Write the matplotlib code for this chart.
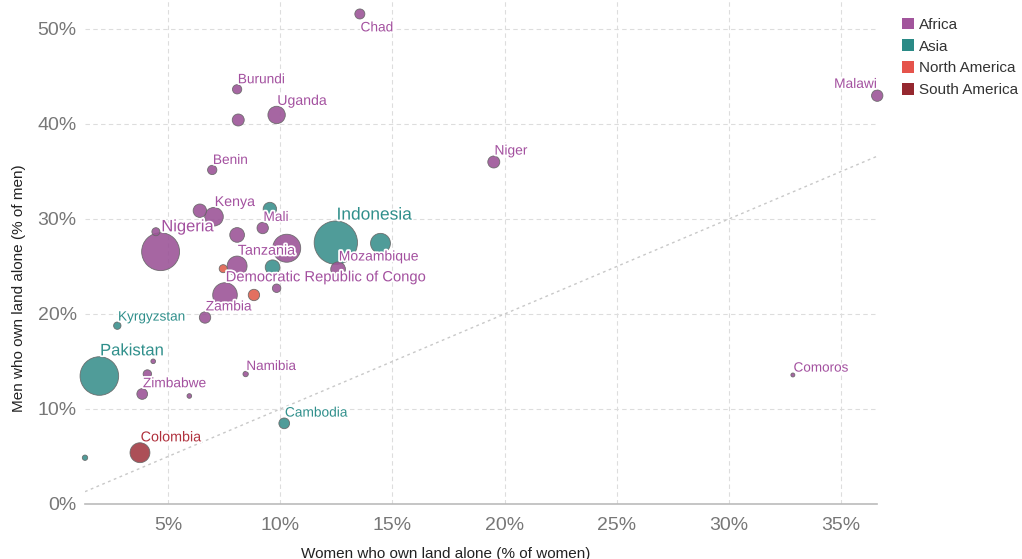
import numpy as np
import matplotlib.pyplot as plt
from matplotlib.patches import Patch
import matplotlib.patheffects as pe

plt.rcParams['font.family'] = ['Liberation Sans', 'DejaVu Sans']

# data (values in %)
names = ["Chad", "Burundi", "", "Uganda", "Benin", "Malawi", "Niger", "Kenya", "", "",
         "Mali", "Nigeria", "", "", "", "Tanzania", "", "", "Indonesia", "",
         "Mozambique", "Democratic Republic of Congo", "", "", "Zambia", "Kyrgyzstan",
         "Pakistan", "", "", "Zimbabwe", "", "Namibia", "Cambodia", "Colombia", "", "Comoros"]
regions = ["Africa", "Africa", "Africa", "Africa", "Africa", "Africa", "Africa", "Africa", "Africa", "Asia",
           "Africa", "Africa", "Africa", "Africa", "Africa", "Africa", "North America", "Asia", "Asia", "Asia",
           "Africa", "Africa", "North America", "Africa", "Africa", "Asia",
           "Asia", "Africa", "Africa", "Africa", "Africa", "Africa", "Asia", "South America", "Asia", "Africa"]
women = [13.55, 8.08, 8.13, 9.84, 6.97, 36.61, 19.52, 7.05, 6.42, 9.54,
         9.22, 4.67, 4.46, 8.08, 10.29, 8.08, 7.46, 9.66, 12.48, 14.47,
         12.58, 7.54, 8.83, 9.84, 6.65, 2.74,
         1.94, 4.34, 4.08, 3.85, 5.95, 8.46, 10.18, 3.75, 1.3, 32.85]
men = [51.58, 43.65, 40.42, 40.95, 35.16, 42.98, 36.0, 30.24, 30.87, 31.05,
       29.05, 26.56, 28.66, 28.32, 26.92, 25.05, 24.77, 24.92, 27.51, 27.44,
       24.71, 22.0, 22.0, 22.71, 19.63, 18.77,
       13.47, 15.02, 13.68, 11.58, 11.37, 13.68, 8.49, 5.4, 4.87, 13.58]
population = [14, 12, 20, 42, 12, 18, 20, 48, 25, 25,
              18, 200, 9, 30, 109, 55, 9, 30, 261, 55,
              30, 84, 18, 10, 18, 7.6,
              207, 3, 10, 16, 3, 4, 16, 55, 4, 2.2]

legend_regions = ["Africa", "Asia", "North America", "South America"]
legend_colors = ["#a2559c", "#2a8a86", "#e5534b", "#95282f"]
bubble_colors = {"Africa": "#9c5598", "Asia": "#3d918e",
                 "North America": "#e0604f", "South America": "#a33c45"}
text_colors = {"Africa": "#a3509f", "Asia": "#2f8f8b",
               "North America": "#d9534a", "South America": "#b0323e"}

fig = plt.figure(figsize=(10.22, 5.59), dpi=100)
ax = fig.add_axes([85 / 1022, 55 / 559, 792 / 1022, 504 / 559])

women = np.array(women)
men = np.array(men)
pop = np.array(population)
sizes = pop * 3.73

# big bubbles first so small ones stay visible
order = np.argsort(-pop)
ax.scatter(women[order], men[order], s=sizes[order],
           c=[bubble_colors[regions[i]] for i in order],
           alpha=0.9, edgecolors="#666666", linewidths=0.6, zorder=3, clip_on=False)

# y = x reference line
ax.plot([1.3, 36.6], [1.3, 36.6], color="#c8c8c8", lw=1, linestyle=(0, (2, 2.5)), zorder=1)

halo = [pe.withStroke(linewidth=2.5, foreground="white")]
for i, name in enumerate(names):
    if not name:
        continue
    r = np.sqrt(sizes[i]) / 2
    fs = min(9.7 + 0.011 * pop[i], 12.5)
    if name == "Chad":
        xy, ha, va = (0.5, -(r + 1)), "left", "top"
    elif name == "Malawi":
        xy, ha, va = (0, r + 1.5), "right", "baseline"
    else:
        xy, ha, va = (0.5, r + 1), "left", "baseline"
    ax.annotate(name, (women[i], men[i]), xytext=xy, textcoords="offset points",
                ha=ha, va=va, fontsize=fs, color=text_colors[regions[i]],
                path_effects=halo, zorder=4)

ax.set_xlim(1.3, 36.6)
ax.set_ylim(0, 53.05)
xt = [5, 10, 15, 20, 25, 30, 35]
yt = [0, 10, 20, 30, 40, 50]
ax.set_xticks(xt)
ax.set_xticklabels([f"{v}%" for v in xt])
ax.set_yticks(yt)
ax.set_yticklabels([f"{v}%" for v in yt])
ax.tick_params(length=0, labelsize=14, colors="#777777")
ax.tick_params(axis="x", pad=9)
ax.tick_params(axis="y", pad=6)

ax.grid(True, color="#dddddd", lw=0.8, linestyle=(0, (4, 3)), zorder=0)
ax.set_axisbelow(True)
for side in ["top", "right", "left"]:
    ax.spines[side].set_visible(False)
ax.spines["bottom"].set_color("#bbbbbb")
ax.spines["bottom"].set_linewidth(1.2)

ax.set_xlabel("Women who own land alone (% of women)", fontsize=11, color="#222222")
ax.xaxis.set_label_coords((446 - 85) / 792, -0.085)
ax.set_ylabel("Men who own land alone (% of men)", fontsize=11, color="#222222")
ax.yaxis.set_label_coords(-0.075, (504 - 288) / 504)

handles = [Patch(facecolor=c, edgecolor="none") for c in legend_colors]
leg = fig.legend(handles, legend_regions, loc="upper left", bbox_to_anchor=(891 / 1022, 0.9875),
                 frameon=False, fontsize=11, handlelength=0.8, handleheight=0.8,
                 handletextpad=0.35, labelspacing=0.5, borderaxespad=0.3)
for t in leg.get_texts():
    t.set_color("#333333")

fig.savefig("out.png", dpi=100)
